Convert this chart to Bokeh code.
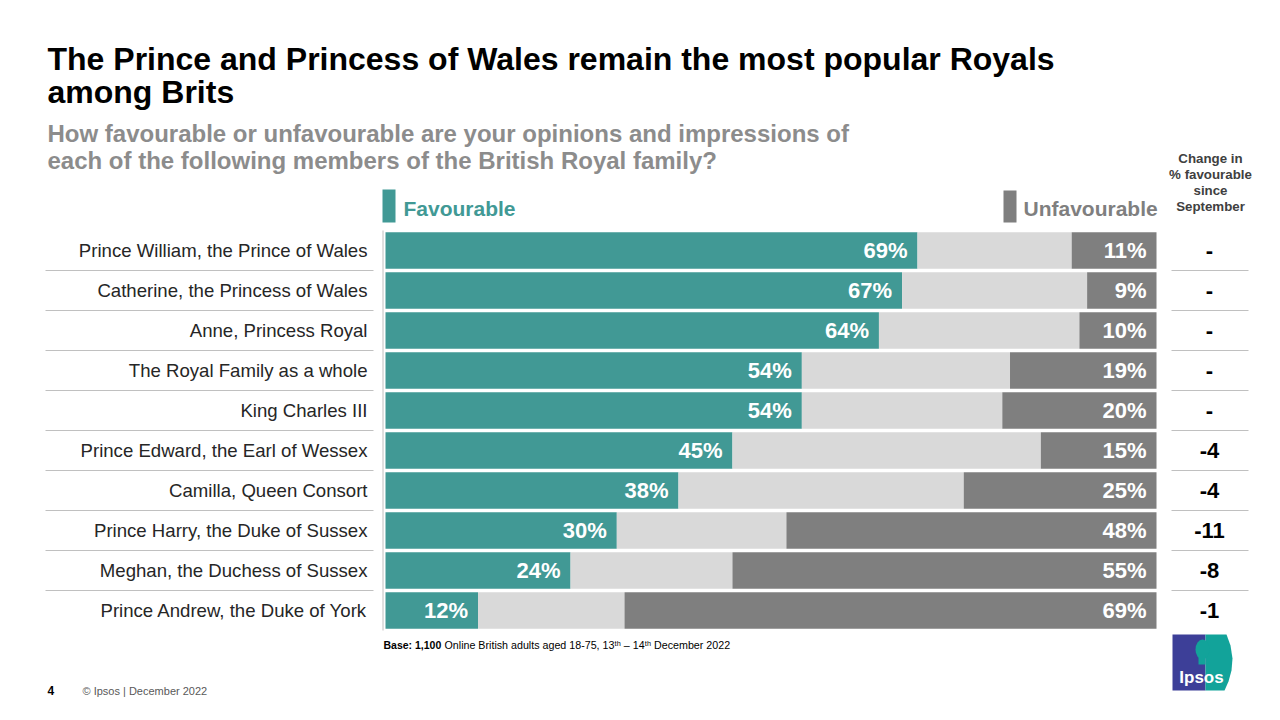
from bokeh.plotting import figure
from bokeh.models import Range1d, ColumnDataSource
from bokeh.core.properties import value
from bokeh.embed import file_html
from bokeh.resources import INLINE

# ---------------- data ----------------
categories = [
    "Prince William, the Prince of Wales",
    "Catherine, the Princess of Wales",
    "Anne, Princess Royal",
    "The Royal Family as a whole",
    "King Charles III",
    "Prince Edward, the Earl of Wessex",
    "Camilla, Queen Consort",
    "Prince Harry, the Duke of Sussex",
    "Meghan, the Duchess of Sussex",
    "Prince Andrew, the Duke of York",
]
favourable = [69, 67, 64, 54, 54, 45, 38, 30, 24, 12]
unfavourable = [11, 9, 10, 19, 20, 15, 25, 48, 55, 69]
change = ["-", "-", "-", "-", "-", "-4", "-4", "-11", "-8", "-1"]

# ---------------- style ----------------
TEAL = "#419995"
LIGHT = "#d9d9d9"
DARK = "#7f7f7f"
SEP = "#c0c0c0"
FONT = value("Liberation Sans")

W, H = 1264, 704
OX, OY = 0, 0               # page px where the canvas starts
X0, PXPCT = 385.0, 7.71     # page px of 0 %, px per %
ROW0, ROWH = 250.0, 40.0    # page px of first row centre, row pitch


def X(px):
    return (px - X0) / PXPCT


def Y(py):
    return (py - ROW0) / ROWH


p = figure(width=W, height=H,
           x_range=Range1d(X(OX), X(OX + W)),
           y_range=Range1d(Y(OY + H), Y(OY)),
           output_backend="svg", toolbar_location=None,
           x_axis_location=None, y_axis_location=None,
           min_border=0)
p.grid.visible = False
p.outline_line_color = None
p.background_fill_color = "white"
p.border_fill_color = "white"

n = len(categories)
idx = list(range(n))
unf_left = [100 - u for u in unfavourable]
src = ColumnDataSource(dict(
    idx=idx, cat=categories, fav=favourable, unf=unfavourable,
    unf_left=unf_left, hundred=[100] * n, zero=[0] * n,
    fav_lbl=[f"{v}%" for v in favourable],
    unf_lbl=[f"{v}%" for v in unfavourable],
    change=change,
))

BAR_H = 0.915
p.hbar(y="idx", left="zero", right="fav", height=BAR_H, color=TEAL, line_width=0, source=src)
p.hbar(y="idx", left="fav", right="unf_left", height=BAR_H, color=LIGHT, line_width=0, source=src)
p.hbar(y="idx", left="unf_left", right="hundred", height=BAR_H, color=DARK, line_width=0, source=src)

# value labels
p.text(x="fav", y="idx", text="fav_lbl", x_offset=-10, text_align="right", text_baseline="middle",
       text_font=FONT, text_font_size="22px", text_font_style="bold", text_color="white", source=src)
p.text(x="hundred", y="idx", text="unf_lbl", x_offset=-10, text_align="right", text_baseline="middle",
       text_font=FONT, text_font_size="22px", text_font_style="bold", text_color="white", source=src)

# category labels
p.text(x=[X(367)] * n, y=idx, text=categories, text_align="right", text_baseline="middle",
       text_font=FONT, text_font_size="18.6px", text_color="#262626")

# change column
p.text(x=[X(1209)] * n, y=idx, text=change, text_align="center", text_baseline="middle",
       text_font=FONT, text_font_size="22px", text_font_style="bold", text_color="black")

# separators
sep_y = [i + 0.5 for i in idx[:-1]]
p.segment(x0=[X(45)] * len(sep_y), x1=[X(373)] * len(sep_y), y0=sep_y, y1=sep_y,
          line_color=SEP, line_width=1)
p.segment(x0=[X(1171)] * len(sep_y), x1=[X(1248)] * len(sep_y), y0=sep_y, y1=sep_y,
          line_color=SEP, line_width=1)
p.segment(x0=[X(382.5)], x1=[X(382.5)], y0=[-0.5], y1=[n - 0.5], line_color=SEP, line_width=1)


def txt(px, py, s, size, color, style="normal", align="left", baseline="middle"):
    p.text(x=[X(px)], y=[Y(py)], text=[s], text_font=FONT, text_font_size=f"{size}px",
           text_font_style=style, text_color=color, text_align=align, text_baseline=baseline)


# title & subtitle
txt(47, 58, "The Prince and Princess of Wales remain the most popular Royals", 32, "black", "bold")
txt(47, 91, "among Brits", 32, "black", "bold")
txt(47, 133, "How favourable or unfavourable are your opinions and impressions of", 24, "#8c8c8c", "bold")
txt(47, 160, "each of the following members of the British Royal family?", 24, "#8c8c8c", "bold")

# legend
p.quad(left=[X(382)], right=[X(395)], top=[Y(189)], bottom=[Y(222)], color=TEAL, line_width=0)
txt(403, 208, "Favourable", 21, TEAL, "bold")
p.quad(left=[X(1003)], right=[X(1016)], top=[Y(190)], bottom=[Y(222)], color=DARK, line_width=0)
txt(1023, 208, "Unfavourable", 21, DARK, "bold")

# change column header
for line, yy in zip(["Change in", "% favourable", "since", "September"], [158, 174, 190, 206]):
    txt(1210, yy, line, 13.3, "#404040", "bold", "center")

# base
txt(383, 644, "Base: 1,100", 10.5, "black", "bold")
txt(444, 644, "Online British adults aged 18-75, 13\u1d57\u02b0 \u2013 14\u1d57\u02b0 December 2022", 10.7, "black")

# footer
txt(47, 690, "4", 12, "black", "bold")
txt(82, 690, "\u00a9 Ipsos | December 2022", 11, "#595959")

# logo
p.quad(left=[X(1172)], right=[X(1205)], top=[Y(634)], bottom=[Y(690)], color="#3d3f98", line_width=0)
lx = [1205, 1226, 1230, 1232, 1231, 1228, 1224, 1205]
ly = [634, 634, 645, 658, 670, 681, 690, 690]
p.patch(x=[X(v) for v in lx], y=[Y(v) for v in ly], color="#12a39a", line_width=0)
p.ellipse(x=[X(1202)], y=[Y(649)], width=[14 / PXPCT], height=[20 / ROWH], color="#12a39a", line_width=0)
p.quad(left=[X(1198)], right=[X(1205)], top=[Y(656)], bottom=[Y(664)], color="#12a39a", line_width=0)
txt(1201, 677, "Ipsos", 17, "white", "bold", "center")

open("out.html", "w").write(file_html(p, INLINE))
